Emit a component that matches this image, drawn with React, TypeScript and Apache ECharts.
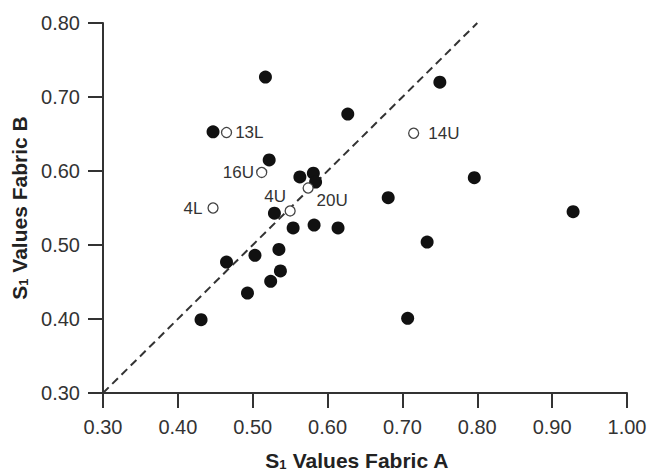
import React, { useEffect, useRef } from "react";
import * as echarts from "echarts";

// Fabric A (x) vs Fabric B (y) S1 values, filled markers
const filledX = [0.517, 0.447, 0.522, 0.627, 0.750, 0.563, 0.581, 0.584, 0.529, 0.554, 0.582, 0.614, 0.465, 0.503, 0.535, 0.537, 0.524, 0.493, 0.431, 0.796, 0.681, 0.928, 0.733, 0.707];
const filledY = [0.727, 0.653, 0.615, 0.677, 0.720, 0.592, 0.597, 0.585, 0.543, 0.523, 0.527, 0.523, 0.477, 0.486, 0.494, 0.465, 0.451, 0.435, 0.399, 0.591, 0.564, 0.545, 0.504, 0.401];

// Labelled open markers
const openNames = ["13L", "14U", "16U", "4L", "4U", "20U"];
const openX = [0.465, 0.715, 0.512, 0.447, 0.550, 0.574];
const openY = [0.652, 0.651, 0.598, 0.550, 0.546, 0.577];

// Line of equality
const diagonalX = [0.3, 0.8];
const diagonalY = [0.3, 0.8];

// Axis ticks
const xTicks = [0.3, 0.4, 0.5, 0.6, 0.7, 0.8, 0.9, 1.0];
const yTicks = [0.3, 0.4, 0.5, 0.6, 0.7, 0.8];

const FONT = "'Liberation Sans', Arial, Helvetica, sans-serif";

const labelLayout: Record<string, any> = {
  "13L": { position: "right", distance: 3 },
  "14U": { position: "right", distance: 9 },
  "16U": { position: "left", distance: 2 },
  "4L": { position: "left", distance: 5 },
  "4U": { position: "inside", offset: [-15, -14] },
  "20U": { position: "inside", offset: [24, 12] },
};

export default function App() {
  const ref = useRef<HTMLDivElement>(null);
  useEffect(() => {
    if (!ref.current) return;
    const chart = echarts.init(ref.current, null, { renderer: "svg" });
    const axisColor = "#333";
    const titleRich = {
      s: { fontSize: 21, fontWeight: "bold", color: "#222", fontFamily: FONT },
      sub: { fontSize: 13, fontWeight: "bold", color: "#222", fontFamily: FONT, verticalAlign: "bottom", lineHeight: 12 },
    };
    chart.setOption({
      animation: false,
      backgroundColor: "#fff",
      grid: { left: 103, right: 24, top: 23, bottom: 82, containLabel: false },
      xAxis: {
        type: "value",
        min: xTicks[0],
        max: xTicks[xTicks.length - 1],
        interval: 0.1,
        name: "{s|S}{sub|1}{s| Values Fabric A}",
        nameLocation: "middle",
        nameGap: 57,
        nameTextStyle: { rich: titleRich, padding: [0, 16, 0, 0] },
        axisLine: { show: true, onZero: false, lineStyle: { color: axisColor, width: 2 } },
        axisTick: { show: true, length: 15, lineStyle: { color: axisColor, width: 2 } },
        axisLabel: {
          margin: 24,
          fontSize: 20,
          color: "#333",
          fontFamily: FONT,
          formatter: (v: number) => v.toFixed(2),
        },
        splitLine: { show: false },
      },
      yAxis: {
        type: "value",
        min: yTicks[0],
        max: yTicks[yTicks.length - 1],
        interval: 0.1,
        name: "{s|S}{sub|1}{s| Values Fabric B}",
        nameLocation: "middle",
        nameRotate: 90,
        nameGap: 70,
        nameTextStyle: { rich: titleRich },
        axisLine: { show: true, onZero: false, lineStyle: { color: axisColor, width: 2 } },
        axisTick: { show: true, length: 15, lineStyle: { color: axisColor, width: 2 } },
        axisLabel: {
          margin: 23,
          fontSize: 20,
          color: "#333",
          fontFamily: FONT,
          formatter: (v: number) => v.toFixed(2),
        },
        splitLine: { show: false },
      },
      series: [
        {
          type: "line",
          data: diagonalX.map((x, i) => [x, diagonalY[i]]),
          symbol: "none",
          lineStyle: { color: "#333", width: 2, type: [8, 5] },
          silent: true,
          z: 1,
        },
        {
          type: "scatter",
          data: filledX.map((x, i) => [x, filledY[i]]),
          symbol: "circle",
          symbolSize: 13,
          itemStyle: { color: "#111", opacity: 1 },
          z: 3,
        },
        {
          type: "scatter",
          data: openX.map((x, i) => ({
            name: openNames[i],
            value: [x, openY[i]],
            label: {
              show: true,
              formatter: openNames[i],
              ...labelLayout[openNames[i]],
            },
          })),
          symbol: "circle",
          symbolSize: 10,
          itemStyle: { color: "#fff", borderColor: "#444", borderWidth: 1.3, opacity: 1 },
          label: { fontSize: 17, color: "#333", fontFamily: FONT },
          z: 4,
        },
      ],
    });
    return () => chart.dispose();
  }, []);
  return (
    <div
      ref={ref}
      style={{ position: "absolute", left: 0, top: 0, width: 651, height: 476 }}
    />
  );
}
